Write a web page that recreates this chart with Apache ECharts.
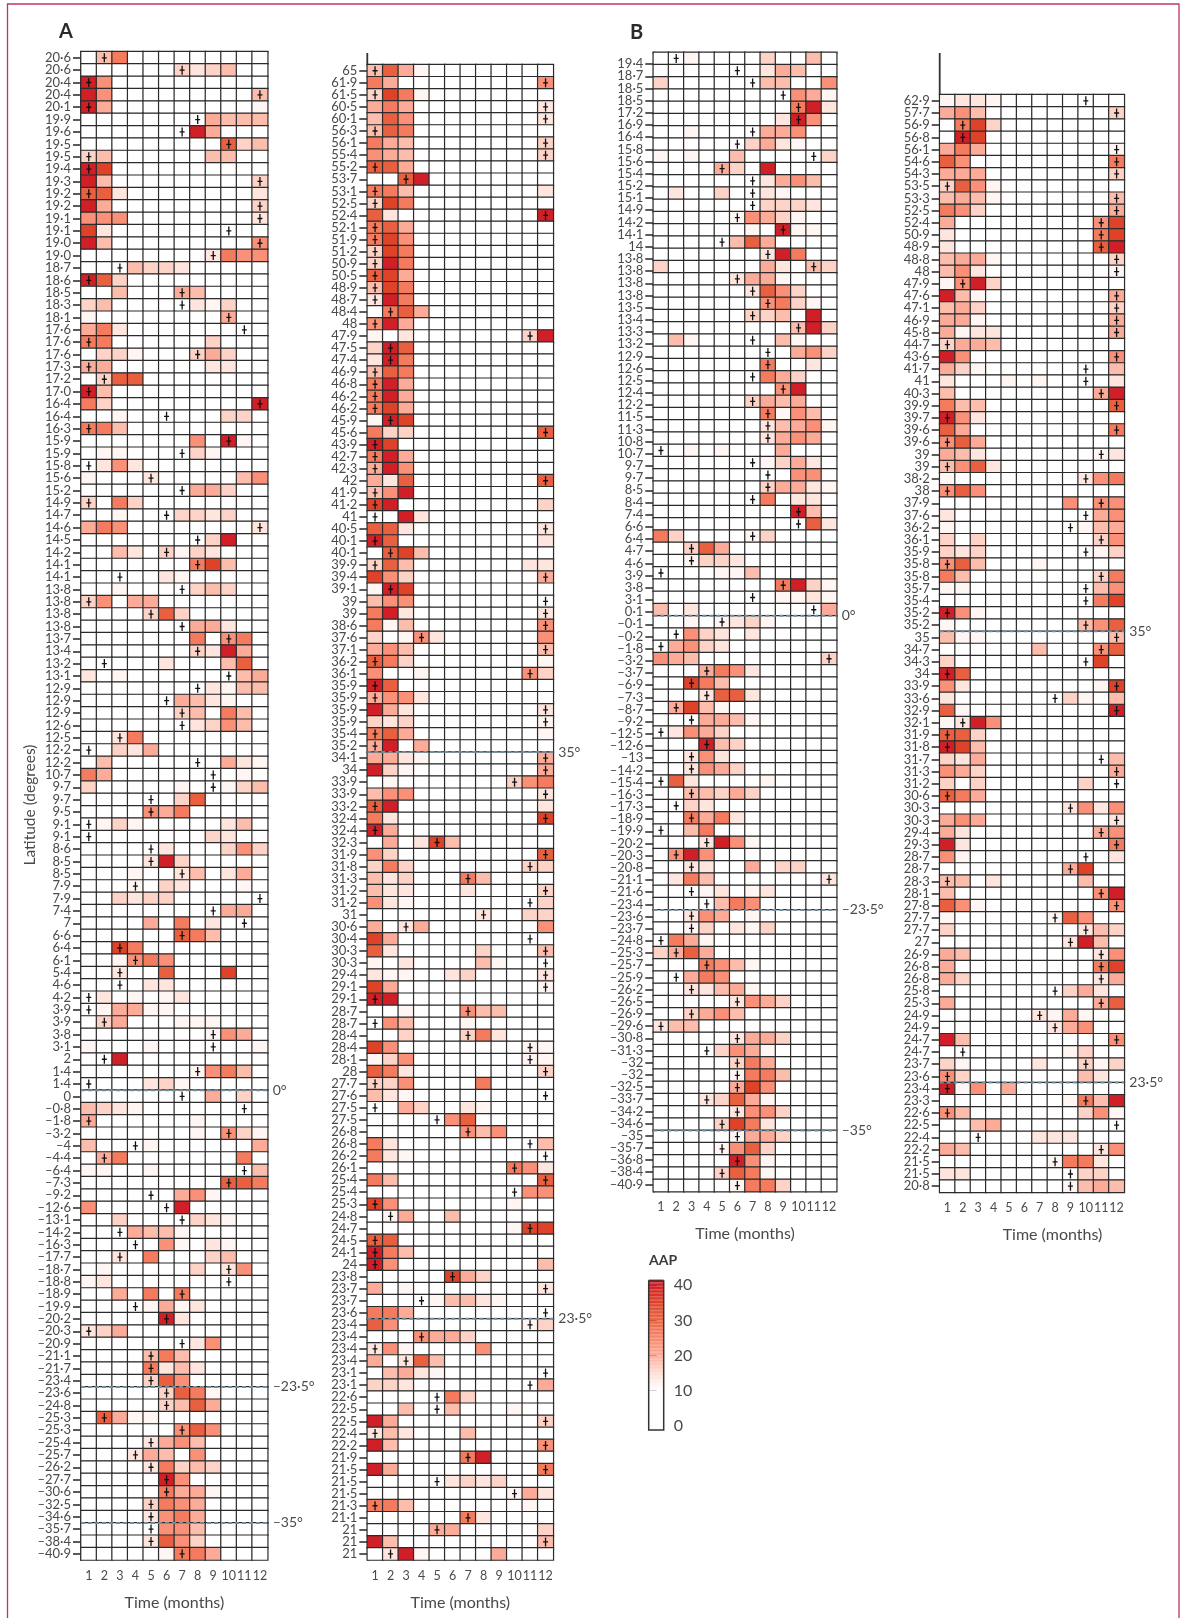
<!DOCTYPE html>
<html><head><meta charset="utf-8">
<script src="https://cdn.jsdelivr.net/npm/echarts@6/dist/echarts.min.js"></script>
<style>html,body{margin:0;padding:0;background:#fff}#c{width:1188px;height:1618px}</style>
</head><body><div id="c"></div>
<script>
const months=['1','2','3','4','5','6','7','8','9','10','11','12'];
// AAP estimated per colour class (0..a)
const aapClass=[5,11.5,13.7,16,18.2,20,23.5,26.5,30.5,35,40];
const rampColors=['#ffffff','#ffffff','#ffffff','#fedcd3','#fbab98','#f88569','#ea6342','#de4229','#d01f27'];
const legendTicks=[0,10,20,30,40];

const latA1=['20·6','20·6','20·4','20·4','20·1','19·9','19·6','19·5','19·5','19·4','19·3','19·2','19·2','19·1','19·1','19·0','19·0','18·7','18·6','18·5','18·3','18·1','17·6','17·6','17·6','17·3','17·2','17·0','16·4','16·4','16·3','15·9','15·9','15·8','15·6','15·2','14·9','14·7','14·6',
'14·5','14·2','14·1','14·1','13·8','13·8','13·8','13·8','13·7','13·4','13·2','13·1','12·9','12·9','12·9','12·6','12·5','12·2','12·2','10·7','9·7','9·7','9·5','9·1','9·1','8·6','8·5','8·5','7·9','7·9','7·4','7','6·6','6·4','6·1','5·4','4·6','4·2','3·9','3·9','3·8','3·1','2',
'1·4','1·4','0','–0·8','–1·8','–3·2','–4','–4·4','–6·4','–7·3','–9·2','–12·6','–13·1','–14·2','–16·3','–17·7','–18·7','–18·8','–18·9','–19·9','–20·2','–20·3','–20·9','–21·1','–21·7','–23·4','–23·6','–24·8','–25·3','–25·3','–25·4','–25·7','–26·2','–27·7','–30·6','–32·5','–34·6','–35·7','–38·4','–40·9'];
const aapA1=['047000000000','000000323400','a60000000000','a60000000004','a50000000001','000000005444','0000000a5000','000000000834','340000004400','a90000000000','a40000000003','882000000002','a50000000003','666000000002','920000000000','a40000000006','000000002766','000433200000','a83000000000','004000540000','340000021300','100000000500','572000000000','770000003000','033100035300','550000002200','038800000000','a40000000000','73000000000a','001000000330','774000000000','000000060a10','011000031000','026200000000','100020000046','000000055300','307300000000','001000332300','576000000002',
'000000003a00','004203132000','000000079400','000002100000','001000034300','360550000000','000038300000','000000055200','000000070670','000000032a50','000002000480','201000000045','000000002144','000000542100','000000340740','000000023640','002700000000','003250000000','040000000521','750000000010','300000100134','000000380000','000065700000','013100000240','000000003200','000002000363','00002a300000','000100240250','000103200010','003233000000','000000000550','000050702000','000000874000','009700000000','001676000000','002008000900','000022000000','020101200000','015511000000','035000111000','000000001650','100010000001','00a000000000',
'000000016740','000023100000','000000005030','432100000000','500000010000','000000010631','400010000005','057000000070','110010000004','000000000887','000000561000','600000a00000','003000032100','000544100000','000006102100','002070003400','010000030260','120000000000','005070700000','000015120000','00000a200000','235000000000','000000026000','000047400000','000072420000','000038600000','000003871000','000003485000','085110000000','000000686000','000025640000','000254060000','000027343000','00000a600000','000007551000','000037650000','000026750000','000006640000','000028630000','000001775000'];
const peakA1=[2,7,1,12,1,8,7,10,1,1,12,1,12,12,10,12,9,3,1,7,7,10,11,1,8,1,2,1,12,6,1,10,7,1,5,7,1,6,12,
8,6,8,3,7,1,5,7,10,8,2,10,8,6,7,7,3,1,8,9,9,5,5,1,1,5,5,7,4,12,9,11,7,3,4,3,3,1,1,2,9,9,2,
8,1,7,11,1,10,4,2,11,10,5,6,7,3,4,3,10,10,7,4,6,1,7,5,5,5,6,6,2,7,5,4,5,6,6,5,5,5,5,7];
const refA1=[[0,'0°'],[-23.5,'–23·5°'],[-35,'–35°']];

const latA2=['65','61·9','61·5','60·5','60·1','56·3','56·1','55·4','55·2','53·7','53·1','52·5','52·4','52·1','51·9','51·2','50·9','50·5','48·9','48·7','48·4','48','47·9','47·5','47·4','46·9','46·8','46·2','46·2','45·9','45·6','43·9','42·7','42·3','42','41·9','41·2','41','40·5','40·1','40·1',
'39·9','39·4','39·1','39','39','38·6','37·6','37·1','36·2','36·1','35·9','35·9','35·9','35·9','35·4','35·2','34·1','34','33·9','33·9','33·2','32·4','32·4','32·3','31·9','31·8','31·3','31·2','31·2','31','30·6','30·4','30·3','30·3','29·4','29·1','29·1','28·7','28·7','28·4','28·4','28·1',
'28','27·7','27·6','27·5','27·5','26·8','26·8','26·2','26·1','25·4','25·4','25·3','24·8','24·7','24·5','24·1','24','23·8','23·7','23·7','23·6','23·4','23·4','23·4','23·4','23·1','23·1','22·6','22·5','22·5','22·4','22·2','21·9','21·5','21·5','21·5','21·3','21·1','21','21','21'];
const aapA2=['485100000000','750000000006','397100000000','575000000002','486000000002','487000000000','754000000003','654000000003','885000000000','008a00000000','774000000002','397000000000','82000000000a','785000000000','796000000000','397000000000','3a7000000000','895000000000','497000000000','2a7000000000','078500000000','6a5000000000','10200000003a','3a8000000000','2a7000000000','487000000000','7a5000000000','7a5000000000','795000000000','1a9000000000','733000000008','a90000000000','7a5000000000','5a6000000000','528000000008','46a000000000','9a0000000003','00a200000000','882000000002','a80000000002','089400000000',
'384000000022','963000000005','1a9000000000','466000000000','7a2000000002','714000000006','301620000006','564000000004','873000000001','600100000063','a80000000000','566200000000','a52000000002','323000000001','785000000001','5a0500000000','552100000005','a31000000005','010000000367','466000000002','8a0000000002','720000000009','a50000000000','050294000000','630000000008','373000000033','423000740000','422000200003','621000000003','000000020033','502500000006','950000000000','820000030004','102000041000','211002300002','950000000001','aa0000000000','001000644000','064000100000','003000372000','960000000011','136000000011',
'872000000003','336000070000','421000000000','005300210000','000006800000','000000646000','720000000004','721000000000','000000000762','740000000008','000000000066','960000000100','015004000000','000000000199','880000000000','a74000000000','a60000000004','000009530000','501000000002','000014421000','775000000000','860000000013','000655300000','261000060000','502840000000','045210000000','332000000005','000007300000','004004000100','a50000000003','242000400000','a40000000006','0000007a0000','a50000000007','000002323000','000000000152','774000000010','000000720000','000055000003','a40000000004','02a100005000'];
const peakA2=[1,12,1,12,12,1,12,12,1,3,1,1,12,1,1,1,1,1,1,1,2,1,11,2,2,1,1,1,1,2,12,1,1,1,12,1,1,1,12,1,2,
1,12,2,12,12,12,4,12,1,11,1,1,12,12,1,1,12,12,10,12,1,12,1,5,12,11,7,12,11,8,3,11,12,12,12,12,1,7,1,7,11,11,
12,1,12,1,5,7,11,12,10,12,10,1,2,11,1,1,1,6,12,4,12,11,4,1,3,12,11,5,5,12,1,12,7,12,5,10,1,7,5,12,2];
const refA2=[[35,'35°'],[23.5,'23·5°']];

const latB1=['19·4','18·7','18·5','18·5','17·2','16·9','16·4','15·8','15·6','15·4','15·2','15·1','14·9','14·2','14·1','14','13·8','13·8','13·8','13·8','13·5','13·4','13·3','13·2','12·9','12·6','12·5','12·4','12·2','11·5','11·3','10·8','10·7','9·7','9·7','8·5','8·4','7·4','6·6','6·4',
'4·7','4·6','3·9','3·8','3·1','0·1','–0·1','–0·2','–1·8','–3·2','–3·7','–6·9','–7·3','–8·7','–9·2','–12·5','–12·6','–13','–14·2','–15·4','–16·3','–17·3','–18·9','–19·9','–20·2','–20·3','–20·8','–21·1','–21·6','–23·4','–23·6','–23·7','–24·8','–25·3','–25·7','–25·9','–26·2','–26·5',
'–26·9','–29·6','–30·8','–31·3','–32','–32','–32·5','–33·7','–34·2','–34·6','–35','–35·7','–36·8','–38·4','–40·9'];
const aapB1=['001000030040','000000025400','300000044006','000000000651','0000000007a2','000000002a60','001000055600','000000352100','101004000003','0000530a0000','000000025640','020030021000','000000033320','000001653100','00000010a110','000004850000','00000002a700','300000052043','000002551000','000000286300','000000067310','0000003340a0','0000000004a3','041000004100','000000000563','000000070020','000000075300','000000006a00','000000354500','000000071640','000000024561','000000025650','001010005000','000000013520','000000000660','000000035521','000000070220','000000000a40','000000000082','730000130000',
'003850000000','001332000000','000011400000','000000007a31','000000001121','402000000005','001012310000','006320200000','056320000000','654000000003','000576200000','009740000000','000288200000','059410000000','000554100000','026530000000','000a43000000','002620000000','002653000000','082000010000','004435300000','003200000000','007572000000','004700000000','0002a6100000','06a600000000','002200503300','027400000002','000120120000','000047600000','002650100000','001302130000','075100000000','358500000000','000764100000','005760000000','002245100000','000002653000',
'003564000000','244000000000','000002553000','000036510000','000003750000','000001774000','000005960000','000238510000','000002663000','000039720000','000001553000','000016830000','00000a610000','000038710000','000001773000'];
const peakB1=[2,6,7,9,10,10,7,6,11,5,7,7,7,6,9,5,8,11,6,7,8,7,10,7,8,8,7,9,7,8,8,8,1,7,8,8,7,10,10,7,
3,3,1,9,7,11,5,2,1,12,4,3,4,2,3,1,4,3,3,1,3,2,3,1,4,2,3,12,3,4,3,3,1,2,4,2,3,6,
3,1,6,4,6,6,6,4,6,5,6,5,6,5,6];
const refB1=[[0,'0°'],[-23.5,'–23·5°'],[-35,'–35°']];

const latB2=['62·9','57·7','56·9','56·8','56·1','54·6','54·3','53·5','53·3','52·5','52·4','50·9','48·9','48·8','48','47·9','47·6','47·1','46·9','45·8','44·7','43·6','41·7','41','40·3','39·9','39·7','39·6','39·6','39','39','38·2','38','37·9','37·6','36·2','36·1','35·9',
'35·8','35·8','35·7','35·4','35·2','35·2','35','34·7','34·3','34','33·9','33·6','32·9','32·1','31·9','31·8','31·7','31·3','31·2','30·6','30·3','30·3','29·4','29·3','28·7','28·7','28·3','28·1','27·8','27·7','27·7','27','26·9','26·8','26·8','25·8','25·3','24·9','24·9','24·7','24·7',
'23·7','23·6','23·4','23·3','22·6','22·5','22·4','22·2','21·5','21·5','20·8'];
const aapB2=['122100000000','564000000003','079300000000','0a9000000000','575000000001','860000000007','555000000003','386100000000','454100000004','763000000005','500000000069','200000000079','20000000008a','455100000003','462000000001','16a300000000','a41000000005','453000000003','551000000005','512200000005','355400000000','a60000000006','531000000004','200010100002','40000000005a','744000000008','a62000000000','850000000007','685000000000','542000000012','468200000000','100000000267','686000000000','000000006066','200000000056','100000000145','303000000036','323000000013',
'684000100000','740000000037','110000000046','000000000079','a61000000000','100000000468','411000000004','000000400068','300000000090','a80000000000','620000000019','200000003104','81000000000a','12a600000000','883000000000','a94000000000','325000000004','653000000005','303000000300','875000000000','000000002626','565000000002','520000000056','a20000000007','610000000002','000000005900','440200000400','40000000006a','861000000006','100000018600','300000000243','000000002a40','540000000026','500000000079','530000000025','000000003520','500000000058','000000215100','000000025600','a40000000006','000000001300',
'310000200313','630000000420','a16050000000','00000000174a','640000000361','004500000000','000000222000','540000000026','000000017720','220000000330','000000001454'];
const peakB2=[10,12,2,2,12,12,12,1,12,12,11,11,11,12,12,2,12,12,12,12,1,12,10,10,11,12,1,12,1,11,1,10,1,11,10,9,11,10,
1,11,10,10,1,10,12,11,10,1,12,8,12,2,1,1,11,12,12,1,9,12,11,12,10,9,1,11,12,8,10,9,11,11,11,8,11,7,8,12,2,
10,1,1,10,1,12,3,11,8,9,9];
const refB2=[[35,'35°'],[23.5,'23·5°']];

const panels=[
 {lat:latA1,aap:aapA1,peak:peakA1,ref:refA1,l:81,r:267.7,t:51.6,b:1560,namePad:[0,0,0,0]},
 {lat:latA2,aap:aapA2,peak:peakA2,ref:refA2,l:367.3,r:553.3,t:64.7,b:1560,stub:53,namePad:[0,0,0,0]},
 {lat:latB1,aap:aapB1,peak:peakB1,ref:refB1,l:653.3,r:836.7,t:52.3,b:1191.7,labT:58,labB:1190.5,namePad:[0,0,0,0]},
 {lat:latB2,aap:aapB2,peak:peakB2,ref:refB2,l:939.7,r:1124.3,t:94.7,b:1192.3,stub:53,namePad:[0,0,0,41]}
];
const FONT='Lato';
const INK='#4a4a4a', AX='#333';
const grid=[],xAxis=[],yAxis=[],series=[],vmIdx=[],graphic=[];
const markPath='path://M1.85 0H3.15V3.85H5V5.15H3.15V9H1.85V5.15H0V3.85H1.85Z';

function latNum(s){return parseFloat(s.replace('·','.').replace('–','-'));}
function yLabelAxis(g,data,show,labels){
  return {type:'category',gridIndex:g,data:data,inverse:true,boundaryGap:true,
   axisLine:{show:true,lineStyle:{color:AX,width:1.8}},
   axisTick:{show:labels,length:8,alignWithLabel:true,lineStyle:{color:AX,width:1.6}},
   axisLabel:{show:labels,interval:0,margin:10,fontFamily:FONT,fontSize:13,color:INK},
   splitLine:{show:false}};
}
panels.forEach(p=>{
  const n=p.lat.length;
  if(p.aap.length!==n||p.peak.length!==n) throw new Error('len '+n+' '+p.aap.length+' '+p.peak.length);
  p.aap.forEach(s=>{if(s.length!==12) throw new Error('row '+s);});
  const g=grid.length;
  grid.push({left:p.l,top:p.t,width:p.r-p.l,height:p.b-p.t});
  const xi=xAxis.length, yi=yAxis.length;
  xAxis.push({type:'category',gridIndex:g,data:months,boundaryGap:true,
    axisLine:{show:true,lineStyle:{color:'#333',width:1.8}},
    axisTick:{show:true,length:9,alignWithLabel:true,lineStyle:{color:AX,width:1.6}},
    axisLabel:{interval:0,margin:9,fontFamily:FONT,fontSize:12.5,color:INK},
    splitLine:{show:false},
    name:'Time (months)',nameLocation:'middle',nameGap:34.5,
    nameTextStyle:{fontFamily:FONT,fontSize:16,color:INK,padding:p.namePad}});
  yAxis.push(yLabelAxis(g,p.lat,true,!p.labT));
  const xv=xAxis.length, yv=yAxis.length;
  xAxis.push({type:'value',gridIndex:g,min:0,max:12,show:false});
  yAxis.push({type:'value',gridIndex:g,min:0,max:n,inverse:true,show:false});
  const cells=[],marks=[];
  p.aap.forEach((s,r)=>{
    for(let c=0;c<12;c++) cells.push([c,r,aapClass[parseInt(s[c],16)]]);
    marks.push([p.peak[r]-1,r]);
  });
  vmIdx.push(series.length);
  series.push({type:'heatmap',xAxisIndex:xi,yAxisIndex:yi,data:cells,silent:true,
    itemStyle:{borderColor:'#2b2b2b',borderWidth:1.2},emphasis:{disabled:true},z:2});
  series.push({type:'scatter',xAxisIndex:xi,yAxisIndex:yi,data:marks,symbol:markPath,symbolSize:[5,9],
    itemStyle:{color:'#111',opacity:1},silent:true,z:4});
  p.ref.forEach(rf=>{
    const b=p.lat.findIndex(v=>latNum(v)<=rf[0]);
    series.push({type:'line',xAxisIndex:xv,yAxisIndex:yv,data:[[0,b],[12,b]],symbol:'none',silent:true,z:5,clip:false,
      lineStyle:{color:'#6f8e9d',width:2,type:[4,3]},
      endLabel:{show:true,formatter:rf[1],distance:5,fontFamily:FONT,fontSize:14,color:INK}});
  });
  if(p.labT){ // tick labels in this panel are spaced a little differently from the rows
    const g2=grid.length;
    grid.push({left:p.l,top:p.labT,width:p.r-p.l,height:p.labB-p.labT});
    xAxis.push({type:'value',gridIndex:g2,min:0,max:12,show:false});
    const a=yLabelAxis(g2,p.lat,true,true); a.axisLine={show:false};
    yAxis.push(a);
  }
  if(p.stub) graphic.push({type:'line',shape:{x1:p.l,y1:p.stub,x2:p.l,y2:p.t},style:{stroke:AX,lineWidth:1.8}});
});
// colour bar
const gL=grid.length;
grid.push({left:648.7,top:1281,width:15,height:149});
xAxis.push({type:'value',gridIndex:gL,min:0,max:1,show:false});
yAxis.push({type:'value',gridIndex:gL,min:-1.2,max:41.2,position:'right',splitLine:{show:false},
  axisLine:{show:false},
  axisTick:{show:true,length:8,customValues:legendTicks,lineStyle:{color:AX,width:1.4}},
  axisLabel:{margin:10,fontFamily:FONT,fontSize:16,color:INK,customValues:legendTicks}});
const rampVals=[];for(let v=-1.2;v<41.2;v+=0.4)rampVals.push([0,+v.toFixed(1)]);
vmIdx.push(series.length);
series.push({type:'custom',xAxisIndex:xAxis.length-1,yAxisIndex:yAxis.length-1,data:rampVals,silent:true,
  encode:{x:0,y:1},
  renderItem:(params,api)=>{
    const a=api.coord([0,api.value(1)+0.42]),b=api.coord([1,api.value(1)]);
    return {type:'rect',shape:{x:a[0],y:a[1],width:b[0]-a[0],height:b[1]-a[1]},style:{fill:api.visual('color')}};
  }});
graphic.push({type:'rect',shape:{x:648.7,y:1281,width:15,height:149},style:{fill:'none',stroke:'#333',lineWidth:1.5},z:50});
graphic.push({type:'rect',shape:{x:7.5,y:4,width:1171.5,height:1700},style:{fill:'none',stroke:'#c2345f',lineWidth:1.3},silent:true,z:-1});
graphic.push({type:'text',x:30,y:805,rotation:Math.PI/2,style:{text:'Latitude (degrees)',fontFamily:FONT,fontSize:15.5,fill:INK,align:'center',verticalAlign:'middle'}});

const chart=echarts.init(document.getElementById('c'),null,{width:1188,height:1618});
chart.setOption({
  animation:false,backgroundColor:'#fff',
  title:[
   {text:'A',left:54,top:17,textStyle:{fontFamily:FONT,fontSize:20,fontWeight:'bold',color:'#2a2a2a'}},
   {text:'B',left:625,top:18,textStyle:{fontFamily:FONT,fontSize:20,fontWeight:'bold',color:'#2a2a2a'}},
   {text:'AAP',left:644,top:1248,textStyle:{fontFamily:FONT,fontSize:14,fontWeight:'bold',color:'#3a3a3a'}}
  ],
  grid,xAxis,yAxis,series,graphic,
  visualMap:[{type:'continuous',show:false,min:0,max:40,seriesIndex:vmIdx,inRange:{color:rampColors}}]
});
</script></body></html>
